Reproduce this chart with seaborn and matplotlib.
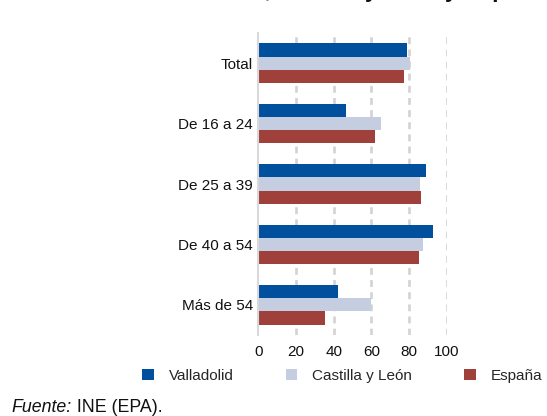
import matplotlib
matplotlib.use("Agg")
import matplotlib.pyplot as plt
import seaborn as sns
import pandas as pd

# Activity rate by age group (%)
grupos = ["Total", "De 16 a 24", "De 25 a 39", "De 40 a 54", "Más de 54"]
valladolid = [79.1, 46.3, 89.2, 92.7, 42.5]
castilla_leon = [80.5, 65.3, 86.0, 87.6, 59.8]
espana = [77.5, 61.9, 86.4, 85.5, 35.2]
territorios = ["Valladolid", "Castilla y León", "España"]
colores = ["#00509E", "#C5CDE0", "#A0403A"]
x_ticks = [0, 20, 40, 60, 80, 100]

df = pd.DataFrame({
    "grupo": grupos * 3,
    "territorio": [territorios[0]] * 5 + [territorios[1]] * 5 + [territorios[2]] * 5,
    "valor": valladolid + castilla_leon + espana,
})

sns.set_theme(style="white")
plt.rcParams["font.family"] = ["Liberation Sans", "DejaVu Sans"]

fig = plt.figure(figsize=(5.47, 4.16), dpi=100)
ax = fig.add_axes([258.3 / 547, 1 - 335 / 416, (446.7 - 258.3) / 547, (335 - 33) / 416])

sns.barplot(data=df, y="grupo", x="valor", hue="territorio", order=grupos,
            hue_order=territorios, palette=colores, orient="h", width=0.655,
            saturation=1, linewidth=0, ax=ax, legend=True, zorder=3)

ax.set_xlim(0, 100)
ax.set_ylim(4.5, -0.5)
ax.set_xticks(x_ticks)
ax.set_xticklabels([str(t) for t in x_ticks])
ax.set_xlabel("")
ax.set_ylabel("")
for g in x_ticks[1:]:
    ax.axvline(g, color="#D3D3D3", lw=1.9, ls=(0, (2.6, 2.0)), zorder=1)

for s in ["top", "right", "bottom"]:
    ax.spines[s].set_visible(False)
ax.spines["left"].set_color("#D9D9D9")
ax.spines["left"].set_linewidth(1.5)
ax.spines["left"].set_zorder(4)
ax.tick_params(axis="x", length=0, pad=7.0, labelsize=11, labelcolor="#111111")
ax.tick_params(axis="y", length=0, pad=3.8, labelsize=11, labelcolor="#111111")

handles, labels = ax.get_legend_handles_labels()
ax.get_legend().remove()
fig.legend(handles, labels, loc="center", bbox_to_anchor=(342.4 / 547, 1 - 375.7 / 416),
           ncol=3, frameon=False, fontsize=11, handlelength=0.75, handleheight=0.75,
           handletextpad=1.0, columnspacing=3.4, borderaxespad=0, borderpad=0)

# Title sits above the visible area; only its descenders show at the top edge
fig.text(545 / 547, 1 + 3 / 416, "Tasa de actividad. Valladolid, Castilla y León y España",
         ha="right", va="baseline", fontsize=16.5, fontweight="bold", color="#111111")

src = fig.text(11.5 / 547, 1 - 412 / 416, "Fuente:", ha="left", va="baseline",
               fontsize=12.8, fontstyle="italic", color="#111111")
ax.annotate(" INE (EPA).", xy=(1, 0), xycoords=src, ha="left", va="bottom",
            fontsize=12.8, color="#111111", annotation_clip=False)

fig.savefig("out.png", dpi=100)
